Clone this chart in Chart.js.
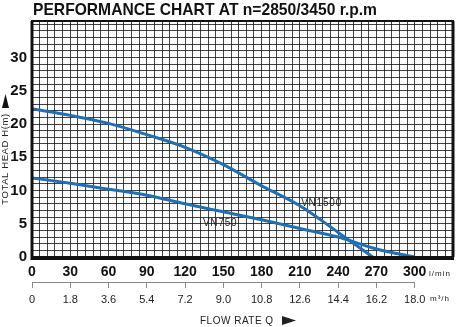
<!DOCTYPE html>
<html><head><meta charset="utf-8">
<script src="https://cdn.jsdelivr.net/npm/chart.js@4"></script>
<style>html,body{margin:0;padding:0;background:#fff;}#wrap{width:460px;height:327px;position:relative;}</style>
</head><body><div id="wrap"><canvas id="c" width="460" height="327"></canvas></div>
<script>
// ---- data ----
const vn1500Flow = [0, 30, 60, 90, 120, 150, 180, 210, 240, 267];
const vn1500Head = [22.3, 21.3, 20.1, 18.4, 16.5, 13.9, 10.7, 7.7, 3.7, 0];
const vn750Flow = [0, 30, 60, 90, 120, 150, 180, 210, 240, 270, 300];
const vn750Head = [11.9, 11.1, 10.2, 9.3, 8.0, 6.8, 5.6, 4.3, 3.0, 1.2, 0];
const lminTicks = [0, 30, 60, 90, 120, 150, 180, 210, 240, 270, 300];
const headTicks = [0, 5, 10, 15, 20, 25, 30];
const m3hLabels = ['0', '1.8', '3.6', '5.4', '7.2', '9.0', '10.8', '12.6', '14.4', '16.2', '18.0'];
const seriesNames = ['VN1500', 'VN750'];
const titleText = 'PERFORMANCE CHART AT n=2850/3450 r.p.m';
const yTitle = 'TOTAL HEAD H(m)';
const xTitle = 'FLOW RATE Q';

const toPts = (xs, ys) => xs.map((x, i) => ({x: x, y: ys[i]}));
const BLUE = '#1f6fb2';
const GRID = 'rgba(20,20,20,0.8)';

const textPlugin = {
  id: 'texts',
  afterDraw(chart) {
    const ctx = chart.ctx, a = chart.chartArea, xs = chart.scales.x, ys = chart.scales.y, x2 = chart.scales.x2;
    ctx.save();
    // frame
    ctx.strokeStyle = '#111';
    ctx.lineWidth = 2;
    ctx.strokeRect(a.left, a.top, a.right - a.left, a.bottom - a.top);
    ctx.lineWidth = 3;
    ctx.beginPath();
    ctx.moveTo(a.left, a.top); ctx.lineTo(a.left, a.bottom + 1.5); ctx.lineTo(a.right + 1, a.bottom + 1.5);
    ctx.moveTo(a.right, a.top); ctx.lineTo(a.right, a.bottom);
    ctx.stroke();
    // m3/h axis line
    ctx.strokeStyle = '#888'; ctx.lineWidth = 1;
    ctx.beginPath();
    ctx.moveTo(x2.getPixelForValue(0), x2.top + 0.5);
    ctx.lineTo(x2.getPixelForValue(18), x2.top + 0.5);
    ctx.stroke();
    // title
    ctx.fillStyle = '#111';
    ctx.textBaseline = 'alphabetic';
    ctx.textAlign = 'left';
    ctx.font = 'bold 17px "Liberation Sans", Arial, sans-serif';
    ctx.fillText(titleText, 33, 15, 344);
    // y title rotated
    ctx.save();
    ctx.translate(5.5, 159);
    ctx.rotate(-Math.PI / 2);
    ctx.textAlign = 'center'; ctx.textBaseline = 'middle';
    ctx.font = '9.5px "Liberation Sans", Arial, sans-serif';
    ctx.letterSpacing = '0.6px';
    ctx.fillStyle = '#222';
    ctx.fillText(yTitle, 0, 0);
    ctx.restore();
    // up arrow
    ctx.fillStyle = '#111';
    ctx.beginPath();
    ctx.moveTo(5.5, 94); ctx.lineTo(9, 108); ctx.lineTo(2, 108); ctx.closePath(); ctx.fill();
    // curve labels
    ctx.font = '10px "Liberation Sans", Arial, sans-serif';
    ctx.letterSpacing = '0.8px';
    ctx.fillStyle = '#222';
    ctx.textAlign = 'center'; ctx.textBaseline = 'middle';
    ctx.fillText(seriesNames[0], xs.getPixelForValue(227), ys.getPixelForValue(8.1));
    ctx.fillText(seriesNames[1], xs.getPixelForValue(147.5), ys.getPixelForValue(5.1));
    // units
    ctx.font = '8px "Liberation Sans", Arial, sans-serif';
    ctx.letterSpacing = '1px';
    ctx.textAlign = 'left';
    ctx.fillText('l/min', 429, 274);
    ctx.fillText('m³/h', 430, 299);
    // flow rate label
    ctx.font = '10px "Liberation Sans", Arial, sans-serif';
    ctx.letterSpacing = '0.5px';
    ctx.fillText(xTitle, 200, 321);
    ctx.beginPath();
    ctx.moveTo(282, 316); ctx.lineTo(296, 320.5); ctx.lineTo(282, 325); ctx.closePath(); ctx.fill();
    ctx.restore();
  }
};

new Chart(document.getElementById('c'), {
  type: 'line',
  data: {
    datasets: [
      {label: seriesNames[0], data: toPts(vn1500Flow, vn1500Head), borderColor: BLUE, borderWidth: 3, pointRadius: 0, cubicInterpolationMode: 'monotone', fill: false},
      {label: seriesNames[1], data: toPts(vn750Flow, vn750Head), borderColor: BLUE, borderWidth: 3, pointRadius: 0, cubicInterpolationMode: 'monotone', fill: false}
    ]
  },
  options: {
    responsive: false,
    animation: false,
    devicePixelRatio: 1,
    layout: {padding: {top: 21, right: 4, bottom: 18, left: 0}},
    plugins: {legend: {display: false}, title: {display: false}, tooltip: {enabled: false}},
    scales: {
      x: {
        type: 'linear', position: 'bottom', weight: 0, min: 0, max: 330,
        ticks: {stepSize: 6, includeBounds: false, autoSkip: false, maxRotation: 0, padding: 7,
          color: '#111', font: {family: '"Liberation Sans", Arial', weight: 'bold', size: 14},
          callback: v => lminTicks.includes(v) ? String(v) : ''},
        grid: {color: GRID, lineWidth: 1, drawTicks: false},
        border: {display: false},
        afterFit: s => { s.height = 25; }
      },
      x2: {
        type: 'linear', position: 'bottom', weight: 1, min: 0, max: 19.8,
        afterBuildTicks: s => { s.ticks = m3hLabels.map(t => ({value: parseFloat(t)})); },
        ticks: {autoSkip: false, maxRotation: 0, padding: 5, color: '#222',
          font: {family: '"Liberation Sans", Arial', size: 11},
          callback: (v, i) => m3hLabels[i]},
        grid: {drawOnChartArea: false, drawTicks: true, tickLength: 6, color: '#888'},
        border: {display: false},
        afterFit: s => { s.height = 27; }
      },
      y: {
        type: 'linear', min: 0, max: 35.5,
        ticks: {stepSize: 1, includeBounds: false, autoSkip: false, padding: 5, color: '#111',
          font: {family: '"Liberation Sans", Arial', weight: 'bold', size: 15},
          callback: v => headTicks.includes(v) ? String(v) : ''},
        grid: {color: GRID, lineWidth: 1, drawTicks: false},
        border: {display: false},
        afterFit: s => { s.width = 32; }
      }
    }
  },
  plugins: [textPlugin]
});
</script></body></html>
